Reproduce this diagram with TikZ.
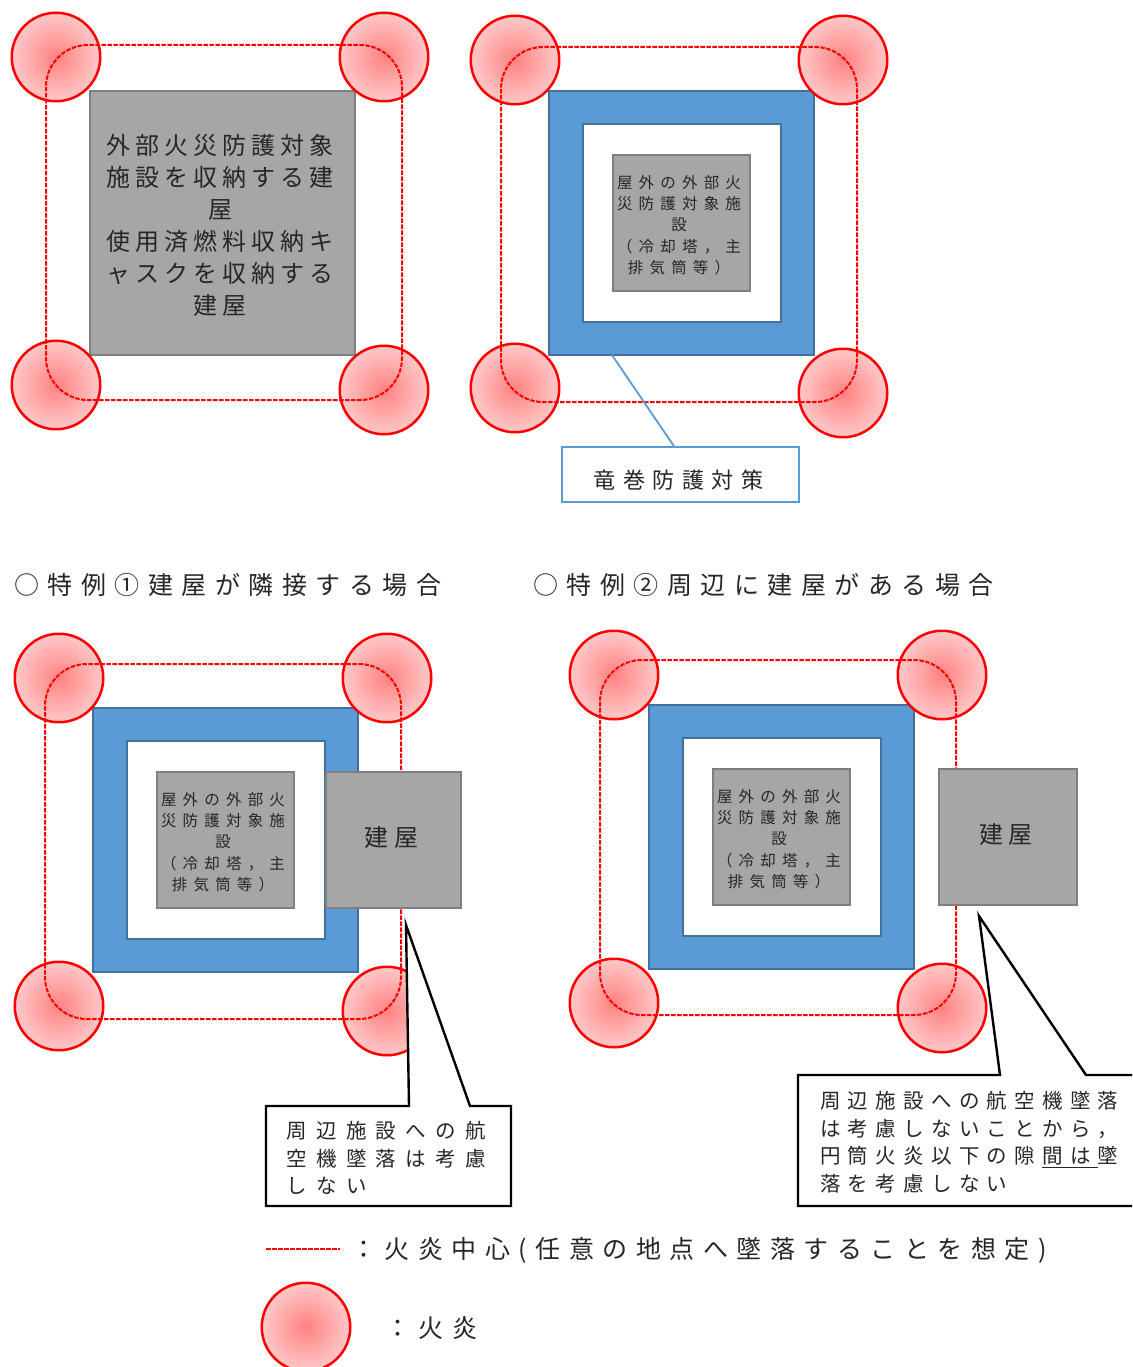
\documentclass[tikz,border=0pt]{standalone}
\usepackage{fontspec}
\setmainfont{Noto Sans CJK JP}
\definecolor{firered}{RGB}{255, 0, 0}
\definecolor{firecore}{RGB}{255, 130, 130}
\definecolor{fireedge}{RGB}{255, 200, 200}
\definecolor{guardblue}{RGB}{91, 155, 213}
\definecolor{guardedge}{RGB}{65, 113, 156}
\definecolor{bldggray}{RGB}{166, 166, 166}
\definecolor{bldgedge}{RGB}{127, 127, 127}
\definecolor{inktext}{RGB}{38, 38, 38}
\tikzset{
    fireball/.style={circle, draw=firered, line width=2.5pt, inner color=firecore, outer color=fireedge, minimum size=88.5pt, inner sep=0pt, outer sep=0pt},
    firepath/.style={draw=firered, line width=2pt, dash pattern=on 4.5pt off 1.5pt},
    bldg/.style={draw=bldgedge, fill=bldggray, line width=2.4pt, anchor=north west, inner sep=0pt, outer sep=0pt, align=center, text=inktext},
    guardouter/.style={draw=guardedge, fill=guardblue, line width=2pt, anchor=north west, outer sep=0pt, minimum width=265pt, minimum height=264pt},
    guardinner/.style={draw=guardedge, fill=white, line width=2pt, anchor=north west, outer sep=0pt, minimum width=198pt, minimum height=198pt},
    calloutbox/.style={draw=black, fill=white, line width=2.4pt},
    largetext/.style={font=\fontsize{24}{32}\selectfont\addfontfeature{LetterSpace=21}},
    smalltext/.style={font=\fontsize{15.5}{21.3}\selectfont\addfontfeature{LetterSpace=40}},
    calltext/.style={font=\fontsize{20.5}{27.6}\selectfont\addfontfeature{LetterSpace=46}, align=left, anchor=north west, inner sep=0pt, text=inktext},
    headtext/.style={font=\fontsize{25}{30}\selectfont\addfontfeature{LetterSpace=34}, anchor=west, inner sep=0pt, text=inktext}
}
% space left after the last letter of a centred line
\newcommand{\tailgap}{\kern5pt}
% four flames and the flame-centre path
\newcommand{\firering}[5]{
    \node[fireball] (#1nw) at (#2,#3) {};
    \node[fireball] (#1ne) at (#2+328,#3) {};
    \node[fireball] (#1sw) at (#2,#3+328) {};
    \node[fireball] (#1se) at (#2+328,#3+333) {};
    \draw[firepath, rounded corners=42pt] (#4,#5) rectangle (#4+356,#5+355);
}
% blue wall, white room and the facility in it
\newcommand{\guardbox}[3]{
    \node[guardouter] (#1outer) at (#2,#3) {};
    \node[guardinner] (#1inner) at (#2+34,#3+33) {};
    \node[bldg, smalltext, minimum width=137pt, minimum height=136pt] (#1core) at (#2+64,#3+64) {\rule{0pt}{17pt}屋外の外部火\tailgap\\災防護対象施\tailgap\\設\tailgap\\（冷却塔，主\tailgap\\排気筒等）\tailgap};
}
\begin{document}
\begin{tikzpicture}[x=1pt, y=-1pt]
    \useasboundingbox (0,0) rectangle (1132,1367);
    \clip (0,0) rectangle (1132,1367);

    % upper left
    \node[bldg, largetext, minimum width=265pt, minimum height=264pt] (mainbldg) at (90,91) {\rule{0pt}{25pt}外部火災防護対象\tailgap\\施設を収納する建\tailgap\\屋\tailgap\\使用済燃料収納キ\tailgap\\ャスクを収納する\tailgap\\建屋\tailgap};
    \firering{ul}{56}{57}{46}{45}

    % upper right
    \guardbox{ur}{549}{91}
    \firering{ur}{515}{60}{501}{47}
    \node[draw=guardblue, fill=white, line width=2pt, outer sep=0pt, minimum width=237pt, minimum height=55pt, anchor=north west, font=\fontsize{22}{28}\selectfont\addfontfeature{LetterSpace=34}, text=inktext] (tornadobox) at (562,447) {\raisebox{-13.5pt}[0pt][0pt]{\hspace*{-4pt}竜巻防護対策}};
    \draw[guardblue, line width=1.8pt] ([xshift=63pt]urouter.south west) -- ([xshift=-6pt]tornadobox.north);

    % headings
    \node[headtext] (headleft) at (14,585) {○特例①建屋が隣接する場合};
    \node[headtext] (headright) at (533,585) {○特例②周辺に建屋がある場合};

    % lower left
    \guardbox{ll}{93}{708}
    \firering{ll}{59}{678}{45}{664}
    \node[bldg, largetext, minimum width=135pt, minimum height=136pt] (nearbldg) at (326,772) {\raisebox{-6.4pt}[0pt][0pt]{\hspace*{-4pt}建屋}};
    \filldraw[calloutbox] (266,1106) -- (409,1106) -- (406,925) -- (470,1106) -- (511,1106) -- (511,1206) -- (266,1206) -- cycle;
    \node[calltext] (noteleft) at (286,1121) {周辺施設への航\\空機墜落は考慮\\しない};

    % lower right
    \guardbox{lr}{649}{705}
    \firering{lr}{614}{675}{600}{660}
    \node[bldg, largetext, minimum width=138pt, minimum height=136pt] (farbldg) at (939,769) {\raisebox{-6.4pt}[0pt][0pt]{\hspace*{-4pt}建屋}};
    \filldraw[calloutbox] (798,1075) -- (1000,1075) -- (979,916) -- (1086,1075) -- (1145,1075) -- (1145,1206) -- (798,1206) -- cycle;
    \node[calltext, font=\fontsize{20.5}{27.6}\selectfont\addfontfeature{LetterSpace=35.5}] (noteright) at (820,1091) {周辺施設への航空機墜落\\は考慮しないことから，\\円筒火炎以下の隙\kern7.2pt\underline{間は\kern7.2pt}墜\\落を考慮しない};

    % legend
    \coordinate (legendstart) at (266,1249);
    \coordinate (legendend) at (340,1249);
    \draw[firepath, line width=2.4pt] (legendstart) -- (legendend);
    \node[headtext] (legendpath) at (351,1250) {：火炎中心(任意の地点へ墜落することを想定)};
    \node[fireball] (legendfire) at (306,1327) {};
    \node[headtext] (legendflame) at (385,1328) {：火炎};
\end{tikzpicture}
\end{document}
